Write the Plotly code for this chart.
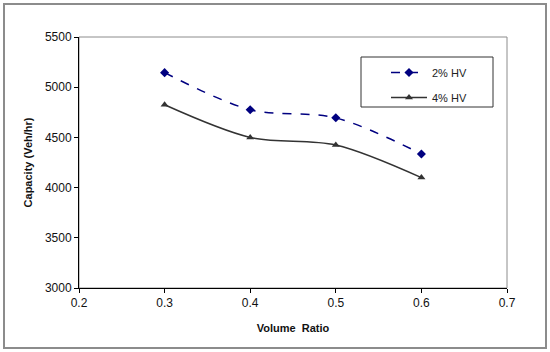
import plotly.graph_objects as go

volume_ratio = [0.3, 0.4, 0.5, 0.6]
hv2 = [5145, 4775, 4695, 4335]
hv4 = [4825, 4500, 4425, 4100]
series_names = ["2% HV", "4% HV"]
x_ticks = [0.2, 0.3, 0.4, 0.5, 0.6, 0.7]
y_ticks = [3000, 3500, 4000, 4500, 5000, 5500]

FONT = "Liberation Sans, Arial, sans-serif"

fig = go.Figure()
fig.add_trace(go.Scatter(
    x=volume_ratio, y=hv2, name=series_names[0], mode="lines+markers",
    line=dict(color="#000080", width=1.5, dash="dash", shape="spline", smoothing=0.9),
    marker=dict(symbol="diamond", size=7, color="#000080"),
    legendgroup="a",
))
fig.add_trace(go.Scatter(
    x=volume_ratio, y=hv4, name=series_names[1], mode="lines+markers",
    line=dict(color="#333333", width=1.5, shape="spline", smoothing=0.9),
    marker=dict(symbol="triangle-up", size=7, color="#333333"),
    legendgroup="b",
))

W, H = 550, 352
L, R, T, B = 79, 507, 37, 288
pw, ph = R - L, B - T

def px(x):
    return (x - L) / pw

def py(y):
    return (B - y) / ph

shapes = [
    # outer frame
    dict(type="rect", xref="paper", yref="paper", x0=px(4), x1=px(546), y0=py(4), y1=py(348),
         line=dict(color="#8c8c8c", width=2), layer="below"),
    # plot area frame
    dict(type="rect", xref="paper", yref="paper", x0=0, x1=1, y0=0, y1=1,
         line=dict(color="#8c8c8c", width=1), layer="below"),
    # legend box
    dict(type="rect", xref="paper", yref="paper", x0=px(361), x1=px(493), y0=py(107), y1=py(57),
         line=dict(color="#333333", width=1)),
]

fig.update_layout(
    width=W, height=H,
    margin=dict(l=L, r=W - R, t=T, b=H - B),
    paper_bgcolor="white", plot_bgcolor="white",
    font=dict(family=FONT, size=12, color="#111111"),
    showlegend=True,
    legend=dict(x=px(386), y=py(58), xanchor="left", yanchor="top",
                bgcolor="rgba(0,0,0,0)", borderwidth=0,
                font=dict(family=FONT, size=11, color="#222222"),
                itemwidth=36, tracegroupgap=6),
    shapes=shapes,
    xaxis=dict(range=[0.2, 0.7], tickvals=x_ticks, ticktext=[str(v) for v in x_ticks],
               showgrid=False, zeroline=False, showline=True, linecolor="#000000", linewidth=1,
               ticks="outside", ticklen=4, tickcolor="#000000",
               tickfont=dict(family=FONT, size=12, color="#111111"),
               title=dict(text="<b>Volume  Ratio</b>", font=dict(family=FONT, size=11, color="#111111"),
                          standoff=14)),
    yaxis=dict(range=[3000, 5500], tickvals=y_ticks,
               showgrid=False, zeroline=False, showline=True, linecolor="#000000", linewidth=1,
               ticks="outside", ticklen=4, tickcolor="#000000",
               tickfont=dict(family=FONT, size=12, color="#111111"),
               title=dict(text="<b>Capacity (Veh/hr)</b>", font=dict(family=FONT, size=11, color="#111111"),
                          standoff=10)),
)

fig.write_html("out.html", post_script="document.body.style.margin='0px';",
               config={"displayModeBar": False})
